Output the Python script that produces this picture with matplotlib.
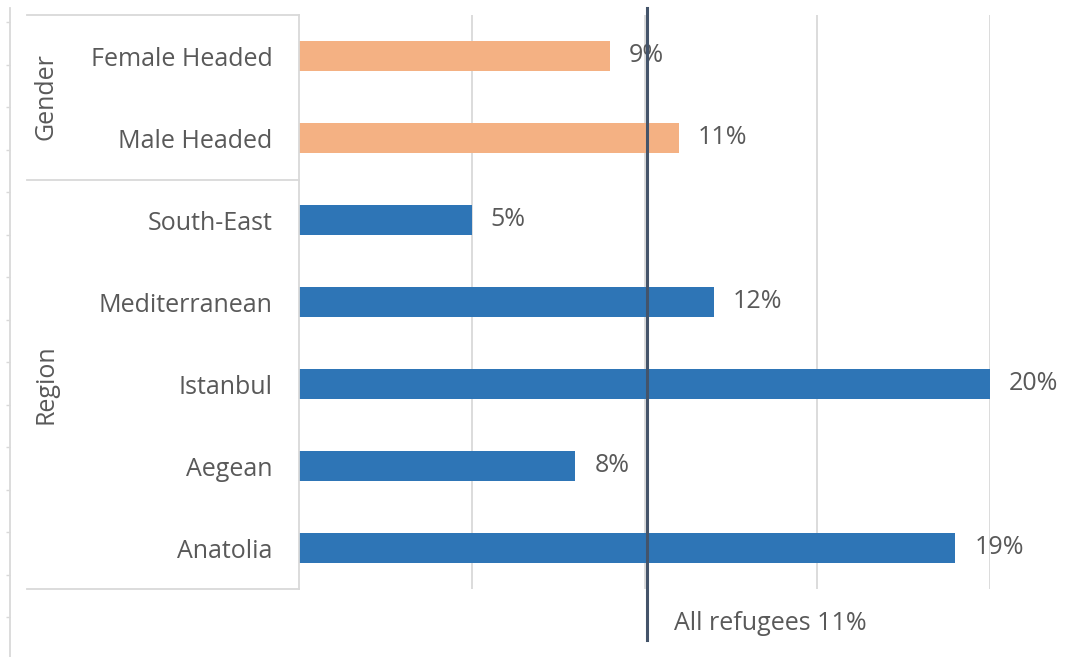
import numpy as np
import matplotlib.pyplot as plt
from matplotlib.lines import Line2D

plt.rcParams['font.family'] = ['Open Sans', 'DejaVu Sans']

# data
categories = ["Female Headed", "Male Headed", "South-East", "Mediterranean",
              "Istanbul", "Aegean", "Anatolia"]
values = [9, 11, 5, 12, 20, 8, 19]
groups = ["Gender", "Gender", "Region", "Region", "Region", "Region", "Region"]
avg_value = 10.07
avg_label = "All refugees 11%"

col_group = {"Gender": "#F4B183", "Region": "#2E75B6"}
txt = "#595959"
grid = "#D9D9D9"
fs = 18

W, H = 1065, 657
fig = plt.figure(figsize=(W / 100, H / 100), dpi=100)

def fx(px):
    return px / W

def fy(py):
    return 1 - py / H

# main axes: x 299..990 px, y 15..589 px
ax = fig.add_axes([fx(299), fy(589), fx(990) - fx(299), fy(15) - fy(589)])
y = np.arange(len(categories))
colors = [col_group[g] for g in groups]
ax.barh(y, values, height=0.36, color=colors, zorder=2)
ax.set_ylim(len(categories) - 0.5, -0.5)
ax.set_xlim(0, 20)
ax.set_xticks([5, 10, 15, 20])
ax.set_xticklabels([])
ax.tick_params(axis="x", length=0)
ax.grid(axis="x", color=grid, lw=1.3, zorder=0)
ax.set_yticks(y)
ax.set_yticklabels(categories, fontsize=fs, color=txt)
ax.tick_params(axis="y", length=0, pad=19)
for s in ["top", "right", "bottom"]:
    ax.spines[s].set_visible(False)
ax.spines["left"].set_color(grid)
ax.spines["left"].set_linewidth(1.3)

for yi, v in zip(y, values):
    ax.text(v + 0.55, yi, f"{v}%", va="center", ha="left", fontsize=fs, color=txt)

# average line
ax.axvline(avg_value, ymin=-0.089, ymax=1.012, color="#44546A", lw=2.2,
           clip_on=False, zorder=3)
ax.text(avg_value + 0.78, len(categories) - 0.5 + 0.42, avg_label, fontsize=fs,
        color=txt, ha="left", va="center")

# group box lines
for py in [15, 180, 589]:
    fig.add_artist(Line2D([fx(27), fx(299)], [fy(py), fy(py)], color=grid, lw=1.3))

# group labels
group_names = ["Gender", "Region"]
for g in group_names:
    idx = [i for i, gg in enumerate(groups) if gg == g]
    yc = (idx[0] + idx[-1]) / 2
    pos = ax.transData.transform((0, yc))
    ypos = fig.transFigure.inverted().transform(pos)[1]
    fig.text(fx(46), ypos, g, rotation=90, ha="center", va="center",
             fontsize=fs, color=txt)

# faint outer axis at far left with small ticks
ax2 = fig.add_axes([fx(10), fy(657), 0.0001, fy(8) - fy(657)])
ax2.set_ylim(657, 8)
ax2.set_yticks(np.arange(22, 620, 42.5))
ax2.set_yticklabels([])
ax2.set_xticks([])
ax2.tick_params(axis="y", length=3, color=grid, width=1)
for s in ["top", "right", "bottom"]:
    ax2.spines[s].set_visible(False)
ax2.spines["left"].set_color(grid)
ax2.spines["left"].set_linewidth(1.3)
ax2.patch.set_alpha(0)

fig.savefig("out.png", dpi=100)
